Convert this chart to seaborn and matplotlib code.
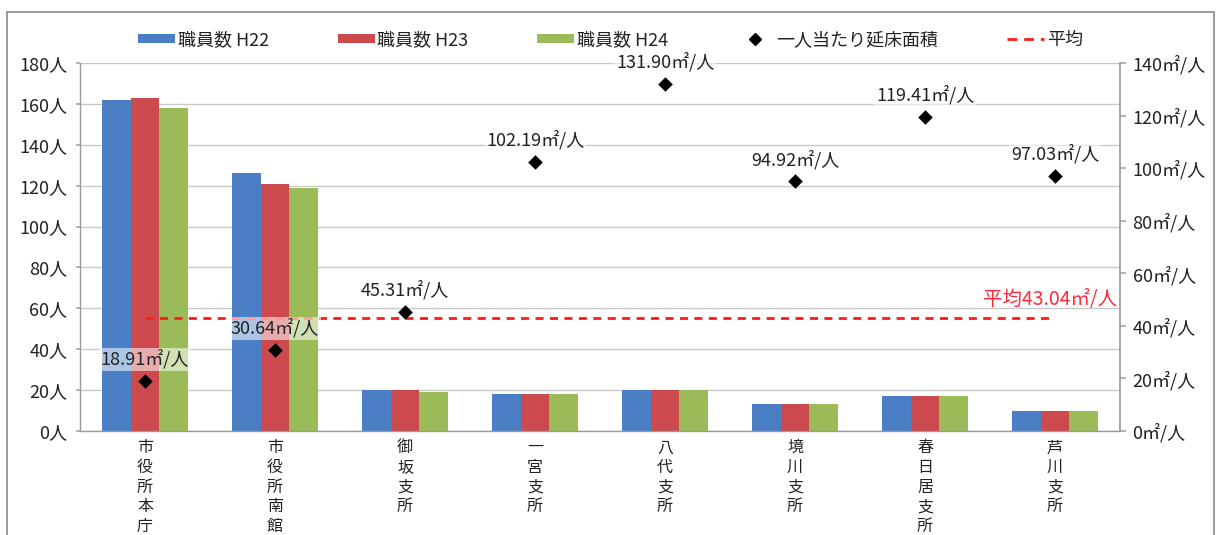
import numpy as np
import pandas as pd
import matplotlib
matplotlib.use("Agg")
import matplotlib.pyplot as plt
from matplotlib.patches import Patch, Rectangle
from matplotlib.lines import Line2D
import seaborn as sns

# ---- data ----
categories = ["市役所本庁", "市役所南館", "御坂支所", "一宮支所", "八代支所", "境川支所", "春日居支所", "芦川支所"]
staff_h22 = [162, 126, 20, 18, 20, 13, 17, 10]
staff_h23 = [163, 121, 20, 18, 20, 13, 17, 10]
staff_h24 = [158, 119, 19, 18, 20, 13, 17, 10]
area_per_person = [18.91, 30.64, 45.31, 102.19, 131.90, 94.92, 119.41, 97.03]
average_area = 43.04
series_names = ["職員数 H22", "職員数 H23", "職員数 H24"]
left_ticks = list(range(0, 181, 20))
right_ticks = list(range(0, 141, 20))

colors = ["#4a7fc6", "#cc4a4e", "#9bbb59"]
avg_color = "#ff1a1a"

sns.set_theme(style="white")
plt.rcParams['font.family'] = ['Noto Sans CJK JP', 'DejaVu Sans']
plt.rcParams['text.color'] = '#222222'

df = pd.DataFrame({
    "category": categories * 3,
    "series": sum([[s] * len(categories) for s in series_names], []),
    "value": staff_h22 + staff_h23 + staff_h24,
})

fig = plt.figure(figsize=(12.21, 5.35), dpi=100)
ax = fig.add_axes([80 / 1221, 1 - 431 / 535, (1120 - 80) / 1221, (431 - 63) / 535])

sns.barplot(data=df, x="category", y="value", hue="series", order=categories,
            hue_order=series_names, palette=colors, width=0.66, gap=0,
            saturation=1, ax=ax, legend=False, linewidth=0)

ax.set_ylim(0, 180)
ax.set_xlim(-0.5, len(categories) - 0.5)
ax.set_yticks(left_ticks)
ax.set_yticklabels([f"{v}人" for v in left_ticks], fontsize=13, color="#222222")
ax.set_xlabel("")
ax.set_ylabel("")
ax.set_xticks(range(len(categories)))
ax.set_xticklabels(["\n".join(c) for c in categories], fontsize=11.5, linespacing=1.2,
                   va="top", color="#222222")
ax.set_xticks(np.arange(-0.5, len(categories)), minor=True)
ax.tick_params(axis="x", which="major", length=0, pad=6)
ax.tick_params(axis="x", which="minor", length=4, color="#999999", direction="out")
ax.tick_params(axis="y", length=3, color="#aaaaaa", direction="out", pad=6)
ax.yaxis.grid(True, color="#c8c8c8", lw=1)
ax.set_axisbelow(True)
for side in ["top", "right"]:
    ax.spines[side].set_visible(False)
for side in ["left", "bottom"]:
    ax.spines[side].set_color("#9a9a9a")
    ax.spines[side].set_linewidth(1)

# secondary axis
ax2 = ax.twinx()
xpos = np.arange(len(categories))
sns.scatterplot(x=xpos, y=area_per_person, marker="D", color="black", s=55, ax=ax2,
                edgecolor="black", linewidth=0, zorder=5)
ax2.plot([xpos[0], xpos[-1]], [average_area, average_area], color=avg_color, lw=2,
         dashes=(2.9, 2.3), zorder=4)
ax2.set_ylim(0, 140)
ax2.set_yticks(right_ticks)
ax2.set_yticklabels([f"{v}㎡/人" for v in right_ticks], fontsize=13, color="#222222")
ax2.tick_params(axis="y", length=4, color="#aaaaaa", direction="out", pad=5)
ax2.spines["top"].set_visible(False)
ax2.spines["left"].set_visible(False)
ax2.spines["bottom"].set_visible(False)
ax2.spines["right"].set_color("#9a9a9a")
ax2.grid(False)

for x, v in zip(xpos, area_per_person):
    ax2.annotate(f"{v:.2f}㎡/人", (x, v), xytext=(0, 16), textcoords="offset points",
                 ha="center", va="center", fontsize=13, color="#222222", zorder=6,
                 bbox=dict(boxstyle="square,pad=0.1", fc="white", ec="none", alpha=0.55))

ax2.annotate(f"平均{average_area:.2f}㎡/人", (xpos[-1] + 0.5, average_area),
             xytext=(-2, 13), textcoords="offset points", ha="right", va="center",
             fontsize=14, color="#ff2a3a", zorder=6)

# legend
handles = [Patch(facecolor=c, edgecolor="none") for c in colors]
handles.append(Line2D([], [], marker="D", color="black", ls="none", markersize=6))
handles.append(Line2D([], [], color=avg_color, lw=2, dashes=(3.5, 2.5)))
labels = series_names + ["一人当たり延床面積", "平均"]
fig.legend(handles, labels, loc="center", bbox_to_anchor=(0.5, 1 - 40 / 535), ncol=5,
           frameon=False, fontsize=13, handlelength=2.05, handleheight=0.45,
           columnspacing=3.8, handletextpad=0.15)

# outer frame
fig.patches.append(Rectangle((7 / 1221, -0.01), (1214 - 7) / 1221, 1.01 - 12 / 535,
                             transform=fig.transFigure, fill=False, ec="#8a8a8a", lw=1.2))

fig.savefig("out.png", dpi=100)
